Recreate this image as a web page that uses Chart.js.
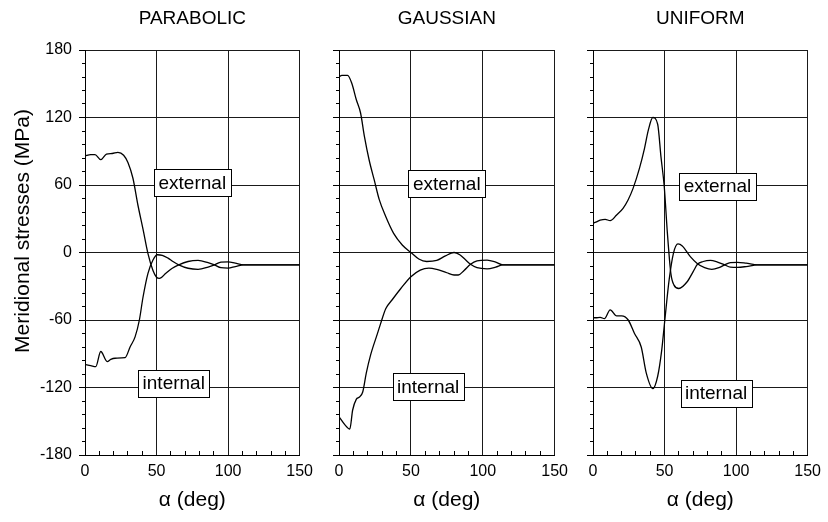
<!DOCTYPE html>
<html>
<head>
<meta charset="utf-8">
<script src="https://cdn.jsdelivr.net/npm/chart.js@4.4.1/dist/chart.umd.min.js"></script>
<style>
  html, body { margin: 0; padding: 0; background: #fff; }
  #wrap { position: relative; width: 828px; height: 522px; overflow: hidden; }
  canvas { position: absolute; top: 0; }
  #c0 { left: 0; }
  #c1 { left: 320px; }
  #c2 { left: 575px; }
</style>
</head>
<body>
<div id="wrap">
  <canvas id="c0" width="320" height="522"></canvas>
  <canvas id="c1" width="255" height="522"></canvas>
  <canvas id="c2" width="253" height="522"></canvas>
</div>
<script>
const FONT = '"Liberation Sans", Arial, Helvetica, sans-serif';
Chart.defaults.font.family = FONT;
Chart.defaults.color = '#000';

const panelTitles = ['PARABOLIC', 'GAUSSIAN', 'UNIFORM'];
const yTitleText = 'Meridional stresses (MPa)';
const xTitleText = 'α (deg)';
const xTickValues = [0, 50, 100, 150];
const yTickValues = [-180, -120, -60, 0, 60, 120, 180];
const labelNames = ['external', 'internal'];

// PARABOLIC
const parabolicAlphaExt = [0, 4, 7, 11, 15, 19, 23, 27, 30, 33.5, 37, 40.5, 44, 47.5, 50, 52, 56.5, 61, 65.5, 72, 79, 86, 90.5, 95, 100, 105, 111, 120, 150];
const parabolicExt = [86, 87, 87, 82.5, 87.5, 88, 89, 86.5, 80, 66, 42, 21, -1, -16, -22, -23, -18.5, -14, -11, -8, -7, -9, -11, -13.5, -13.8, -12.5, -11, -11, -11];
const parabolicAlphaInt = [0, 4, 7.5, 11, 15.5, 18, 21, 28, 31.5, 35, 38, 40.5, 44, 47.5, 50.5, 54, 58, 61.5, 65.5, 72, 79, 86, 90.5, 95, 100, 105, 111, 120, 150];
const parabolicInt = [-99.5, -100.5, -101.5, -88, -97, -95, -94, -93.5, -84, -75, -60, -40, -18.5, -6.7, -2, -2.5, -5, -8, -11, -14, -15, -13, -11, -8.5, -8.3, -9.5, -11, -11, -11];
const parabolicLabelPos = [[75, 62], [62, -116]];

// GAUSSIAN
const gaussianAlphaExt = [0, 2, 6, 9, 12, 15, 17.7, 21, 24.5, 28, 32.5, 38, 44, 50, 55.5, 61, 68, 74, 80, 84, 88, 91.5, 96, 103, 109, 114, 130, 150];
const gaussianExt = [156, 157.5, 157.5, 150, 136, 124, 103, 82, 64.5, 47, 32, 17, 6.7, 0, -5.8, -8, -7, -3, 0, -2, -6.5, -10.5, -13.5, -14.5, -13, -11, -11, -11];
const gaussianAlphaInt = [0, 4, 7.5, 9.5, 12, 14, 16.5, 19, 22, 26.5, 29, 32.5, 37, 43, 50, 56.5, 62.5, 68, 75, 80, 83, 87, 91.5, 96, 103, 109, 114, 130, 150];
const gaussianInt = [-146, -153, -157, -140, -130.5, -128.7, -124, -107, -91, -73, -63, -50, -42, -32, -21.5, -15.6, -13.8, -15, -18, -20, -20, -16, -10.5, -7.5, -6.7, -8.5, -11, -11, -11];
const gaussianLabelPos = [[75, 61], [62, -119]];

// UNIFORM
const uniformAlphaExt = [0, 2, 5, 8.5, 12, 16.5, 21, 24.5, 28, 32.5, 36, 38.7, 41.8, 45.2, 47.5, 49.8, 52, 54.4, 56.6, 60, 65.8, 70, 73, 77, 82, 87, 92, 96, 101, 107, 115, 130, 150];
const uniformExt = [26, 27, 28.7, 29.5, 28.3, 33.3, 39.3, 46.7, 57, 75, 92.6, 109, 120, 114, 85, 58.5, 17, -18.5, -29, -32, -26, -17, -10.5, -8, -7, -8.5, -11, -13, -13.2, -12.5, -11, -11, -11];
const uniformAlphaInt = [0, 2, 5, 8, 12, 16.5, 20, 24.6, 29, 33.7, 37.2, 41.8, 45.2, 48, 50.2, 53.2, 56.2, 59.4, 62.4, 68, 73, 78, 83, 88, 92, 96, 101, 107, 115, 130, 150];
const uniformInt = [-58, -58, -57.6, -58.8, -51, -56.4, -56.4, -60, -72, -84, -107, -121, -110, -87, -60, -24.4, -0.7, 7.6, 5.8, -3.7, -10, -13.5, -15, -13.5, -11, -9, -8.7, -9.5, -11, -11, -11];
const uniformLabelPos = [[87, 59], [86, -125]];

const toPoints = (xs, ys) => xs.map((x, i) => ({ x, y: ys[i] }));
const alignPx = p => Math.round(p - 0.5) + 0.5;

// minor ticks: y outward on the left, x inward from the bottom
const frameTicks = {
    id: 'frameTicks',
    afterDraw(chart) {
        const { ctx, chartArea: a, scales: { x, y } } = chart;
        ctx.save();
        ctx.strokeStyle = '#000';
        ctx.lineWidth = 1;
        ctx.beginPath();
        for (let v = -180; v <= 180; v += 12) {
            const py = alignPx(y.getPixelForValue(v));
            const len = v % 60 === 0 ? 6 : 3;
            ctx.moveTo(a.left - len, py);
            ctx.lineTo(a.left, py);
        }
        for (let v = 10; v < 150; v += 10) {
            if (v % 50 === 0) continue;
            const px = alignPx(x.getPixelForValue(v));
            ctx.moveTo(px, a.bottom);
            ctx.lineTo(px, a.bottom - 4);
        }
        ctx.stroke();
        ctx.restore();
    }
};

const labelBoxes = (positions) => ({
    id: 'labelBoxes',
    afterDatasetsDraw(chart) {
        const { ctx, scales: { x, y } } = chart;
        ctx.save();
        ctx.font = `19px ${FONT}`;
        ctx.textAlign = 'center';
        ctx.textBaseline = 'middle';
        positions.forEach(([a, v], i) => {
            const text = labelNames[i];
            const cx = x.getPixelForValue(a), cy = y.getPixelForValue(v);
            const w = Math.round(ctx.measureText(text).width + 9), h = 27;
            const left = Math.round(cx - w / 2) + 0.5, top = Math.round(cy - h / 2) + 0.5;
            ctx.fillStyle = '#fff';
            ctx.fillRect(left, top, w, h);
            ctx.strokeStyle = '#000';
            ctx.lineWidth = 1;
            ctx.strokeRect(left, top, w, h);
            ctx.fillStyle = '#000';
            ctx.fillText(text, cx, cy + 1);
        });
        ctx.restore();
    }
});

const yTitle = {
    id: 'yTitle',
    afterDraw(chart) {
        const { ctx } = chart;
        ctx.save();
        ctx.translate(23, 231);
        ctx.rotate(-Math.PI / 2);
        ctx.font = `21px ${FONT}`;
        ctx.textAlign = 'center';
        ctx.textBaseline = 'middle';
        ctx.fillStyle = '#000';
        ctx.fillText(yTitleText, 0, 0);
        ctx.restore();
    }
};

const lineStyle = {
    showLine: true,
    borderColor: '#000',
    backgroundColor: '#000',
    borderWidth: 1.3,
    pointRadius: 0,
    cubicInterpolationMode: 'monotone',
    fill: false
};

const panels = [
    { id: 'c0', title: panelTitles[0], ax: parabolicAlphaExt, ex: parabolicExt, ai: parabolicAlphaInt, inn: parabolicInt, labels: parabolicLabelPos, yWidth: 85, padRight: 18, showY: true },
    { id: 'c1', title: panelTitles[1], ax: gaussianAlphaExt, ex: gaussianExt, ai: gaussianAlphaInt, inn: gaussianInt, labels: gaussianLabelPos, yWidth: 19, padRight: 18, showY: false },
    { id: 'c2', title: panelTitles[2], ax: uniformAlphaExt, ex: uniformExt, ai: uniformAlphaInt, inn: uniformInt, labels: uniformLabelPos, yWidth: 18, padRight: 17, showY: false }
];

panels.forEach(p => {
    const extraPlugins = [frameTicks, labelBoxes(p.labels)];
    if (p.showY) extraPlugins.push(yTitle);

    new Chart(document.getElementById(p.id), {
        type: 'scatter',
        data: {
            datasets: [
                { label: 'external', data: toPoints(p.ax, p.ex), ...lineStyle },
                { label: 'internal', data: toPoints(p.ai, p.inn), ...lineStyle }
            ]
        },
        options: {
            responsive: false,
            animation: false,
            layout: { padding: { left: 0, right: p.padRight, top: 0, bottom: 0 } },
            plugins: {
                legend: { display: false },
                tooltip: { enabled: false },
                title: {
                    display: true,
                    text: p.title,
                    fullSize: false,
                    color: '#000',
                    font: { family: FONT, size: 19, weight: 'normal' },
                    padding: { top: 7, bottom: 20.2 }
                }
            },
            scales: {
                x: {
                    type: 'linear',
                    min: 0,
                    max: 150,
                    afterBuildTicks: s => { s.ticks = xTickValues.map(v => ({ value: v })); },
                    afterFit: s => { s.height = 67; },
                    ticks: { color: '#000', font: { size: 16 }, padding: 7, maxRotation: 0, autoSkip: false },
                    grid: { color: '#1a1a1a', lineWidth: 1, drawTicks: false },
                    border: { color: '#000', width: 1 },
                    title: {
                        display: true,
                        text: xTitleText,
                        color: '#000',
                        font: { size: 21 },
                        padding: { top: 0, bottom: 9 }
                    }
                },
                y: {
                    type: 'linear',
                    min: -180,
                    max: 180,
                    afterBuildTicks: s => { s.ticks = yTickValues.map(v => ({ value: v })); },
                    afterFit: s => { s.width = p.yWidth; },
                    ticks: { display: p.showY, color: '#000', font: { size: 16 }, padding: 13, autoSkip: false },
                    grid: { color: '#1a1a1a', lineWidth: 1, drawTicks: false },
                    border: { color: '#000', width: 1 }
                }
            }
        },
        plugins: extraPlugins
    });
});
</script>
</body>
</html>
